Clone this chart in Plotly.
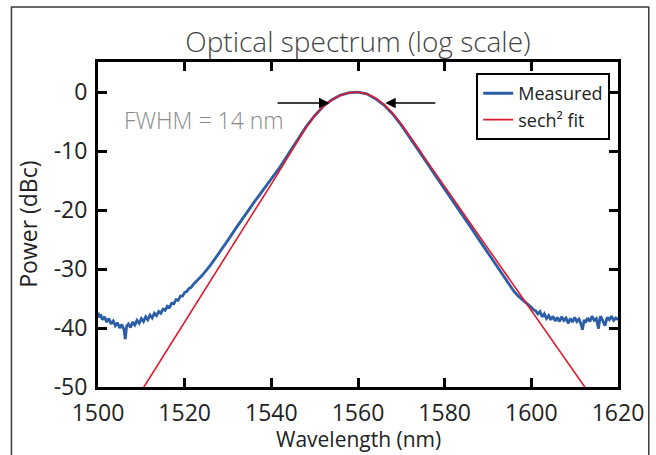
import plotly.graph_objects as go

# ---------------- data ----------------
meas_wl = [
    1500.0, 1500.3, 1500.6, 1501.0, 1501.5, 1502.0, 1502.5, 1503.0, 1503.5, 1504.0,
    1504.5, 1505.0, 1505.5, 1506.0, 1506.3, 1506.6, 1507.0, 1507.5, 1508.0, 1508.5,
    1509.0, 1509.5, 1510.0, 1510.5, 1511.0, 1511.5, 1512.0, 1512.5, 1513.0, 1513.5,
    1514.0, 1514.5, 1515.0, 1515.5, 1516.0, 1516.5, 1517.0, 1517.5, 1518.0, 1518.5,
    1519.0, 1519.5, 1520.0, 1520.5, 1521.0, 1521.5, 1522.0, 1523.0, 1524.0,
    1526, 1528, 1530, 1532, 1534, 1536, 1538, 1540, 1542, 1544, 1546, 1548, 1550,
    1552, 1554, 1556, 1558, 1560, 1562, 1564, 1566, 1568, 1570, 1572, 1574, 1576,
    1578, 1580, 1582, 1584, 1586, 1588, 1590, 1592, 1594, 1595, 1596, 1597, 1598,
    1599.0, 1599.5, 1600.0, 1600.5, 1601.0, 1601.5, 1602.0, 1602.5, 1603.0, 1603.5,
    1604.0, 1604.5, 1605.0, 1605.5, 1606.0, 1606.5, 1607.0, 1607.5, 1608.0, 1608.5,
    1609.0, 1609.5, 1610.0, 1610.5, 1611.0, 1611.5, 1611.8, 1612.2, 1612.5, 1613.0,
    1613.5, 1614.0, 1614.5, 1615.0, 1615.5, 1615.8, 1616.0, 1616.5, 1617.0, 1617.5,
    1618.0, 1618.5, 1619.0, 1619.5, 1620.0,
]
meas_db = [
    -37.4, -38.2, -37.7, -38.6, -38.1, -39.0, -38.4, -39.3, -38.8, -39.6,
    -39.1, -40.0, -39.4, -40.3, -41.9, -39.7, -39.3, -39.9, -39.0, -39.5,
    -38.7, -39.2, -38.4, -38.9, -38.1, -38.6, -37.8, -38.3, -37.5, -37.9,
    -37.2, -37.5, -36.8, -37.0, -36.3, -36.5, -35.8, -35.9, -35.2, -35.3,
    -34.6, -34.6, -34.0, -33.8, -33.3, -33.1, -32.6, -31.9, -31.1,
    -29.3, -27.3, -25.1, -22.9, -20.7, -18.7, -16.7, -14.8, -12.7, -10.4, -8.1, -5.9, -4.0,
    -2.4, -1.3, -0.5, -0.1, 0.0, -0.3, -1.1, -2.2, -3.7, -5.6, -7.7, -9.9, -12.1,
    -14.3, -16.4, -18.6, -20.8, -22.9, -25.1, -27.3, -29.5, -31.7, -32.8, -33.8, -34.6, -35.2,
    -35.8, -36.1, -36.5, -36.9, -37.1, -37.6, -37.2, -38.1, -37.6, -38.4,
    -37.9, -38.6, -38.0, -38.8, -38.2, -38.9, -38.1, -38.7, -38.3, -39.2,
    -38.4, -39.0, -38.2, -38.9, -38.5, -39.4, -40.3, -38.6, -39.1, -38.3,
    -38.9, -38.0, -38.7, -38.4, -40.1, -38.5, -38.0, -38.8, -39.6, -38.2,
    -38.6, -38.0, -38.7, -38.3, -38.6,
]

fit_wl = [1510, 1515, 1520, 1525, 1530, 1535, 1540, 1543, 1546, 1548, 1550, 1552,
          1554, 1556, 1558, 1560, 1562, 1564, 1566, 1568, 1570, 1572, 1574, 1576,
          1578, 1580, 1585, 1590, 1595, 1600, 1605, 1610, 1613]
fit_db = [-50.7, -44.8, -39.0, -33.1, -27.3, -21.4, -15.6, -12.0, -8.3, -6.0, -4.0, -2.4,
          -1.3, -0.5, -0.1, 0.0, -0.3, -1.0, -2.1, -3.6, -5.4, -7.4, -9.6, -11.8,
          -13.9, -16.0, -21.3, -26.5, -31.8, -37.0, -42.3, -47.5, -50.7]

x_ticks = [1500, 1520, 1540, 1560, 1580, 1600, 1620]
y_ticks = [0, -10, -20, -30, -40, -50]
y_tick_labels = ["0", "-10", "-20", "-30", "-40", "-50"]
series_names = ["Measured", "sech² fit"]
title_text = "Optical spectrum (log scale)"
fwhm_text = "FWHM = 14 nm"
fwhm_level = -1.85
fwhm_left, fwhm_right = 1553.4, 1566.3
arrow_tail_left, arrow_tail_right = 1541.1, 1578.2

FONT = "Open Sans"
BLUE = "#2b5ea7"
RED = "#e3182d"

fig = go.Figure()
fig.add_trace(go.Scatter(x=meas_wl, y=meas_db, mode="lines", name=series_names[0],
                         line=dict(color=BLUE, width=2.8)))
fig.add_trace(go.Scatter(x=fit_wl, y=fit_db, mode="lines", name=series_names[1],
                         line=dict(color=RED, width=1.6)))

axis_common = dict(
    showline=True, linecolor="black", linewidth=3, mirror="ticks",
    ticks="inside", ticklen=9, tickwidth=3, tickcolor="black",
    showgrid=False, zeroline=False,
    tickfont=dict(family=FONT, size=23, color="#222"),
)
fig.update_xaxes(range=[1500, 1620], tickvals=x_ticks, ticklabelstandoff=3, **axis_common)
fig.update_yaxes(range=[-50, 5.1], tickvals=y_ticks, ticktext=y_tick_labels,
                 ticklabelstandoff=3, **axis_common)

fig.update_layout(
    width=656, height=455,
    margin=dict(l=98, r=34, t=62, b=68),
    paper_bgcolor="white", plot_bgcolor="white",
    showlegend=True,
    legend=dict(x=0.985, y=0.966, xanchor="right", yanchor="top",
                bordercolor="black", borderwidth=2, bgcolor="white",
                font=dict(family=FONT, size=18, color="#222"),
                tracegroupgap=0, itemwidth=30),
    title=dict(text=title_text, x=0.5, xref="paper", y=1 - 42 / 455, yref="container",
               xanchor="center", yanchor="middle",
               font=dict(family=FONT, size=28, color="#444", weight=300)),
)

# axis titles
fig.add_annotation(text="Wavelength (nm)", x=0.5, y=-0.160, xref="paper", yref="paper",
                   showarrow=False, xanchor="center", yanchor="middle",
                   font=dict(family=FONT, size=21, color="#222"))
fig.add_annotation(text="Power (dBc)", x=-0.136, y=0.5, xref="paper", yref="paper",
                   showarrow=False, textangle=-90, xanchor="center", yanchor="middle",
                   font=dict(family=FONT, size=23, color="#222"))

# FWHM label and arrows
fig.add_annotation(text=fwhm_text, x=1524.4, y=-4.7, xref="x", yref="y", showarrow=False,
                   font=dict(family=FONT, size=23, color="#8a8a8a", weight=300))
fig.add_annotation(x=fwhm_left, y=fwhm_level, ax=arrow_tail_left, ay=fwhm_level,
                   xref="x", yref="y", axref="x", ayref="y", text="", showarrow=True,
                   arrowhead=2, arrowsize=1.3, arrowwidth=1.6, arrowcolor="black")
fig.add_annotation(x=fwhm_right, y=fwhm_level, ax=arrow_tail_right, ay=fwhm_level,
                   xref="x", yref="y", axref="x", ayref="y", text="", showarrow=True,
                   arrowhead=2, arrowsize=1.3, arrowwidth=1.6, arrowcolor="black")

# outer frame of the figure
fig.add_shape(type="rect", xref="paper", yref="paper",
              x0=(11 - 98.2) / 523.8, x1=(653 - 98.2) / 523.8,
              y0=(387 - 462) / 325, y1=(387 - 7) / 325,
              line=dict(color="#3a3a3a", width=1.5), fillcolor="rgba(0,0,0,0)", layer="below")

fig.write_html("out.html", config={"displayModeBar": False},
               post_script="document.body.style.margin='0';")
